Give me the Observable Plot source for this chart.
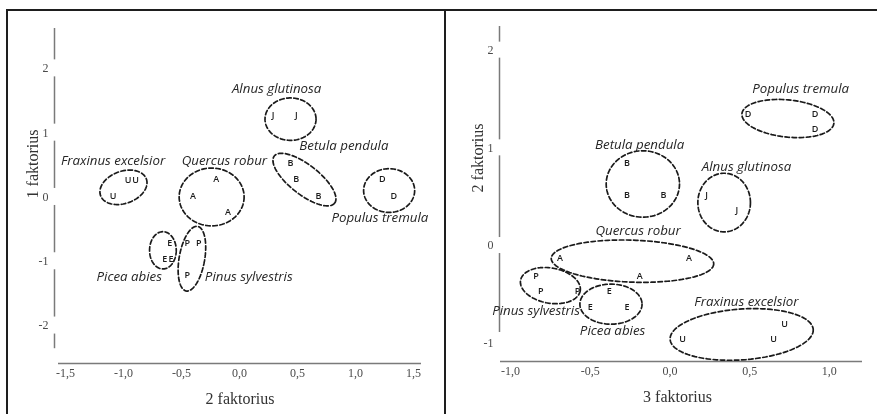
<!DOCTYPE html>
<html><head><meta charset="utf-8">
<script src="https://cdn.jsdelivr.net/npm/d3@7"></script>
<script src="https://cdn.jsdelivr.net/npm/@observablehq/plot@0.6"></script>
<style>
body{margin:0;background:#fff;}
#wrap{position:relative;width:877px;height:414px;overflow:hidden;background:#fff;filter:grayscale(1);}
#left{position:absolute;left:0;top:0;}
#right{position:absolute;left:445px;top:0;}
.b{position:absolute;background:#1e1e1e;}
</style></head><body>
<div id="wrap"><div id="left"></div><div id="right"></div>
<div class="b" style="left:6px;top:9px;width:871px;height:2px"></div>
<div class="b" style="left:6px;top:9px;width:2px;height:405px"></div>
<div class="b" style="left:444px;top:9px;width:2px;height:405px"></div>
</div>
<script>
// ---- categories ----
const species = ["Alnus glutinosa","Betula pendula","Populus tremula","Fraxinus excelsior","Quercus robur","Picea abies","Pinus sylvestris"];
const codes   = ["J","B","D","U","A","E","P"];

// ---- left panel: x = 2 faktorius, y = 1 faktorius ----
const leftLetters = ["J","J","B","B","B","D","D","U","U","U","A","A","A","E","E","E","P","P","P"];
const leftX = [0.29,0.49, 0.44,0.49,0.68, 1.23,1.33, -1.09,-0.96,-0.895, -0.20,-0.40,-0.10, -0.60,-0.645,-0.59, -0.45,-0.35,-0.45];
const leftY = [1.27,1.27, 0.52,0.27,0.02, 0.27,0.02, 0.02,0.26,0.26, 0.27,0.01,-0.23, -0.72,-0.97,-0.97, -0.72,-0.72,-1.22];
// group ellipses (order as species)
const leftEllCx = [0.44,0.56,1.29,-1.00,-0.24,-0.66,-0.41];
const leftEllCy = [1.21,0.27,0.10,0.15,0.00,-0.83,-0.96];
const leftEllRx = [0.22,0.33,0.22,0.21,0.28,0.115,0.11];
const leftEllRy = [0.33,0.23,0.34,0.25,0.45,0.29,0.51];
const leftEllTilt = [0,38,0,-20,0,0,10];
const leftLabX = [0.32,0.90,1.21,-1.09,-0.13,-0.95,0.08];
const leftLabY = [1.69,0.79,-0.33,0.57,0.57,-1.24,-1.24];
const leftXTicks = [-1.5,-1.0,-0.5,0,0.5,1.0,1.5];
const leftYTicks = [-2,-1,0,1,2];
const leftXTitle = "2 faktorius";
const leftYTitle = "1 faktorius";

// ---- right panel: x = 3 faktorius, y = 2 faktorius ----
const rightLetters = ["D","D","D","B","B","B","J","J","A","A","A","P","P","P","E","E","E","U","U","U"];
const rightX = [0.49,0.91,0.91, -0.27,-0.27,-0.04, 0.23,0.42, -0.69,0.12,-0.19, -0.84,-0.81,-0.58, -0.38,-0.50,-0.27, 0.08,0.65,0.72];
const rightY = [1.35,1.35,1.19, 0.84,0.52,0.52, 0.52,0.36, -0.13,-0.13,-0.31, -0.31,-0.47,-0.47, -0.47,-0.63,-0.63, -0.96,-0.96,-0.80];
const rightEllCx = [0.34,-0.17,0.74,0.45,-0.235,-0.37,-0.75];
const rightEllCy = [0.44,0.63,1.30,-0.91,-0.16,-0.60,-0.41];
const rightEllRx = [0.165,0.23,0.29,0.45,0.51,0.195,0.19];
const rightEllRy = [0.30,0.34,0.19,0.26,0.215,0.205,0.18];
const rightEllTilt = [0,0,6,-4,2,0,10];
const rightLabX = [0.48,-0.19,0.82,0.48,-0.20,-0.36,-0.84];
const rightLabY = [0.81,1.03,1.61,-0.58,0.15,-0.87,-0.67];
const rightXTicks = [-1.0,-0.5,0,0.5,1.0];
const rightYTicks = [-1,0,1,2];
const rightXTitle = "3 faktorius";
const rightYTitle = "2 faktorius";

// ---- helpers ----
const SERIF = "'Liberation Serif', 'DejaVu Serif', serif";
const SANS = "'Open Sans', 'Noto Sans', sans-serif";
function ellipses(cx, cy, rx, ry, tilt, kx, ky) {
  const pts = [];
  const N = 90;
  species.forEach((name, i) => {
    const a = rx[i] * kx, b = ry[i] * ky, th = tilt[i] * Math.PI / 180;
    for (let j = 0; j < N; j++) {
      const t = 2 * Math.PI * j / N;
      const px = a * Math.cos(t) * Math.cos(th) - b * Math.sin(t) * Math.sin(th);
      const py = a * Math.cos(t) * Math.sin(th) + b * Math.sin(t) * Math.cos(th);
      pts.push({name, x: cx[i] + px / kx, y: cy[i] - py / ky});
    }
  });
  return pts;
}
function axisSegments(ticks, top, bottom, gap) {
  const segs = [];
  let start = top;
  [...ticks].sort((a, b) => b - a).forEach(t => {
    const hi = Math.min(start, top), lo = Math.max(t + gap, bottom);
    if (lo < hi) segs.push({y1: lo, y2: hi});
    start = t - gap;
  });
  if (start > bottom) segs.push({y1: bottom, y2: Math.min(start, top)});
  return segs;
}
const fmtX = d => d.toFixed(1).replace(".", ",");
const fmtY = d => String(d);

function panel(cfg) {
  const {width, height, ml, mr, mt, mb, xd, yd} = cfg;
  const kx = (width - ml - mr) / (xd[1] - xd[0]);
  const ky = (height - mt - mb) / (yd[1] - yd[0]);
  const pts = cfg.letters.map((l, i) => ({l, x: cfg.xs[i], y: cfg.ys[i]}));
  const labs = species.map((s, i) => ({s, x: cfg.labX[i], y: cfg.labY[i]}));
  const ell = ellipses(cfg.ecx, cfg.ecy, cfg.erx, cfg.ery, cfg.etilt, kx, ky);
  const gap = cfg.gapPx / ky;
  const segs = axisSegments(cfg.yTicks, cfg.yLineTop, cfg.yLineBottom, gap);
  const yLineX = xd[0] - cfg.yLineOffsetPx / kx;
  return Plot.plot({
    width, height, marginLeft: ml, marginRight: mr, marginTop: mt, marginBottom: mb,
    x: {domain: xd}, y: {domain: yd},
    style: {fontFamily: SERIF, fontSize: "12px", color: "#444", background: "transparent"},
    marks: [
      Plot.ruleY([yd[0]], {stroke: "#7a7a7a", strokeWidth: 1.5}),
      Plot.ruleX(segs, {x: () => yLineX, y1: "y1", y2: "y2", stroke: "#7a7a7a", strokeWidth: 1.5}),
      Plot.axisX({ticks: cfg.xTicks, tickFormat: fmtX, tickSize: 0, tickPadding: 5, label: null, fontFamily: SERIF, fontSize: 12, fill: "#4a4a4a"}),
      Plot.axisY({ticks: cfg.yTicks, tickFormat: fmtY, tickSize: 0, tickPadding: cfg.yPad, label: null, fontFamily: SERIF, fontSize: 12, fill: "#4a4a4a"}),
      Plot.text([cfg.xTitle], {frameAnchor: "bottom", dy: 35, dx: cfg.xTitleDx, fontFamily: SERIF, fontSize: 16, fill: "#333", lineAnchor: "middle"}),
      Plot.text([cfg.yTitle], {frameAnchor: "left", dx: cfg.yTitleDx, dy: cfg.yTitleDy, rotate: -90, fontFamily: SERIF, fontSize: 16, fill: "#333", textAnchor: "middle"}),
      Plot.line(ell, {x: "x", y: "y", z: "name", curve: "linear-closed", stroke: "#1a1a1a", strokeWidth: 1.7, strokeDasharray: "4.5,2.6"}),
      Plot.text(pts, {x: "x", y: "y", text: "l", fontFamily: SANS, fontSize: 9, fontWeight: 600, fill: "#1a1a1a"}),
      Plot.text(labs, {x: "x", y: "y", text: "s", fontFamily: SANS, fontStyle: "italic", fontSize: 13.3, fill: "#262626"})
    ]
  });
}

document.getElementById("left").append(panel({
  width: 445, height: 414, ml: 58, mr: 24, mt: 28, mb: 51,
  xd: [-1.56, 1.569], yd: [-2.59, 2.62],
  letters: leftLetters, xs: leftX, ys: leftY,
  ecx: leftEllCx, ecy: leftEllCy, erx: leftEllRx, ery: leftEllRy, etilt: leftEllTilt,
  labX: leftLabX, labY: leftLabY,
  xTicks: leftXTicks, yTicks: leftYTicks,
  yLineTop: 2.62, yLineBottom: -2.36, gapPx: 8.5, yLineOffsetPx: 4, yPad: 10,
  xTitle: leftXTitle, yTitle: leftYTitle, xTitleDx: 0, yTitleDx: -26, yTitleDy: -32
}));
document.getElementById("right").append(panel({
  width: 432, height: 414, ml: 55, mr: 15, mt: 26, mb: 53,
  xd: [-1.063, 1.208], yd: [-1.187, 2.242],
  letters: rightLetters, xs: rightX, ys: rightY,
  ecx: rightEllCx, ecy: rightEllCy, erx: rightEllRx, ery: rightEllRy, etilt: rightEllTilt,
  labX: rightLabX, labY: rightLabY,
  xTicks: rightXTicks, yTicks: rightYTicks,
  yLineTop: 2.242, yLineBottom: -0.89, gapPx: 8, yLineOffsetPx: 1, yPad: 7,
  xTitle: rightXTitle, yTitle: rightYTitle, xTitleDx: -4, yTitleDx: -23, yTitleDy: -36
}));
</script>
</body></html>
